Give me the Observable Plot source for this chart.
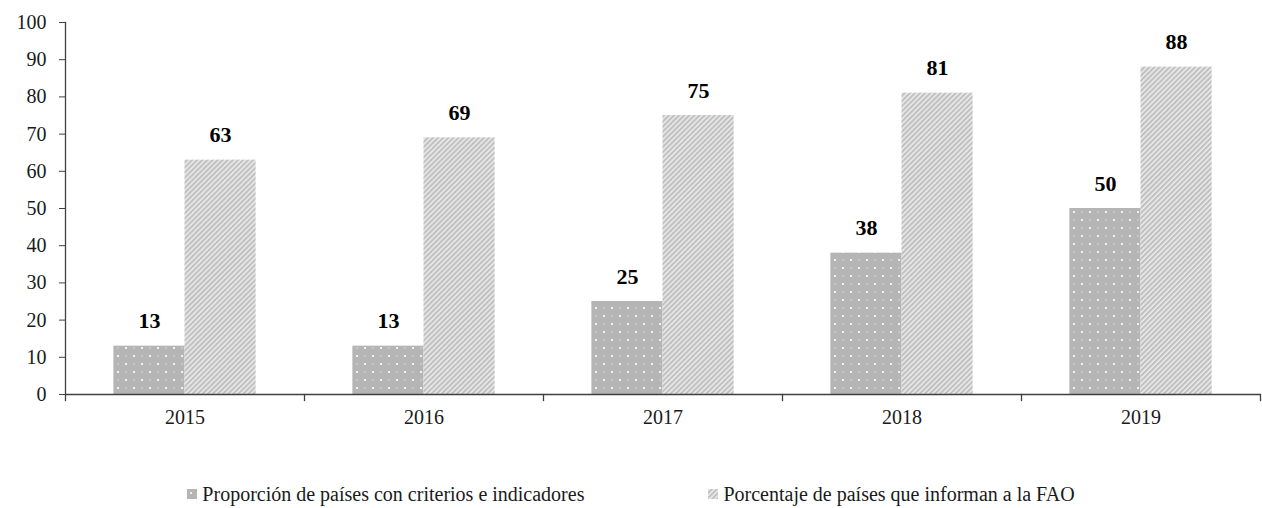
<!DOCTYPE html>
<html>
<head>
<meta charset="utf-8">
<script src="https://cdn.jsdelivr.net/npm/d3@7"></script>
<script src="https://cdn.jsdelivr.net/npm/@observablehq/plot@0.6"></script>
<style>
  html, body { margin: 0; padding: 0; background: #fff; font-family: 'Liberation Serif', serif; }
  #chart { width: 1262px; }
  .legend { width: 1262px; height: 78px; box-sizing: border-box; padding-top: 50px; display: flex; justify-content: center; gap: 124px;
    font-family: 'Liberation Serif', serif; font-size: 20px; color: #1a1a1a; }
  .legend .item { display: flex; align-items: center; gap: 5px; }
  .legend svg { display: block; }
  #chart svg, #chart svg text { font-family: 'Liberation Serif', serif !important; }
</style>
</head>
<body>
<svg width="0" height="0" style="position:absolute">
  <defs>
    <pattern id="dots" patternUnits="userSpaceOnUse" width="16" height="16">
      <rect width="16" height="16" fill="#b5b5b5"></rect>
      <circle cx="4" cy="4" r="1.1" fill="#ffffff"></circle>
      <circle cx="12" cy="12" r="1.1" fill="#ffffff"></circle>
      <circle cx="12" cy="4" r="0.9" fill="#cdcdcd"></circle>
      <circle cx="4" cy="12" r="0.9" fill="#cdcdcd"></circle>
    </pattern>
    <pattern id="hatch" patternUnits="userSpaceOnUse" width="3.6" height="3.6" patternTransform="rotate(45)">
      <rect width="3.6" height="3.6" fill="#c0c0c0"></rect>
      <line x1="1" y1="0" x2="1" y2="3.6" stroke="#f4f4f4" stroke-width="1.3"></line>
    </pattern>
  </defs>
</svg>
<div id="chart"></div>
<div class="legend" id="legend"></div>
<script>
const years = ["2015", "2016", "2017", "2018", "2019"];
const seriesNames = ["Proporción de países con criterios e indicadores", "Porcentaje de países que informan a la FAO"];
const proporcion = [13, 13, 25, 38, 50];
const porcentaje = [63, 69, 75, 81, 88];
const yTicks = [0, 10, 20, 30, 40, 50, 60, 70, 80, 90, 100];
const fills = {[seriesNames[0]]: "url(#dots)", [seriesNames[1]]: "url(#hatch)"};

const data = [];
years.forEach((yr, i) => {
  data.push({year: yr, series: seriesNames[0], value: proporcion[i]});
  data.push({year: yr, series: seriesNames[1], value: porcentaje[i]});
});

const axisColor = "#404040";
const chart = Plot.plot({
  width: 1262,
  height: 430,
  marginTop: 22,
  marginBottom: 36,
  marginLeft: 63,
  marginRight: 1,
  style: {fontFamily: "'Liberation Serif', serif", fontSize: "19px", color: "#1a1a1a", background: "#fff"},
  fx: {domain: years, paddingInner: 0, paddingOuter: 0, label: null},
  x: {domain: seriesNames, paddingInner: 0, paddingOuter: 0.68, round: false, axis: null},
  y: {domain: [0, 100], label: null},
  marks: [
    Plot.barY(data, {fx: "year", x: "series", y: "value", fill: d => fills[d.series]}),
    Plot.text(data, {fx: "year", x: "series", y: "value", text: d => String(d.value), dy: -25,
      fontWeight: "bold", fontSize: 22, fill: "#000"}),
    Plot.ruleY([0], {stroke: axisColor, strokeWidth: 1.5}),
    Plot.frame({anchor: "left", insetTop: 372, insetBottom: -6, stroke: axisColor, strokeWidth: 1.3}),
    Plot.frame({anchor: "right", facet: "super", insetTop: 372, insetBottom: -6, stroke: axisColor, strokeWidth: 1.3}),
    Plot.frame({anchor: "left", facet: "super", stroke: axisColor, strokeWidth: 1.3}),
    Plot.axisY({ticks: yTicks, tickSize: 6, tickPadding: 13, label: null, stroke: axisColor, fontSize: 20}),
    Plot.axisFx({anchor: "bottom", tickSize: 0, tickPadding: 15, label: null, fontSize: 20})
  ]
});
document.getElementById("chart").appendChild(chart);

const legend = document.getElementById("legend");
seriesNames.forEach(name => {
  const item = document.createElement("div");
  item.className = "item";
  item.innerHTML = `<svg width="10" height="10"><rect width="10" height="10" fill="${fills[name]}"></rect></svg><span>${name}</span>`;
  legend.appendChild(item);
});
</script>
</body>
</html>
